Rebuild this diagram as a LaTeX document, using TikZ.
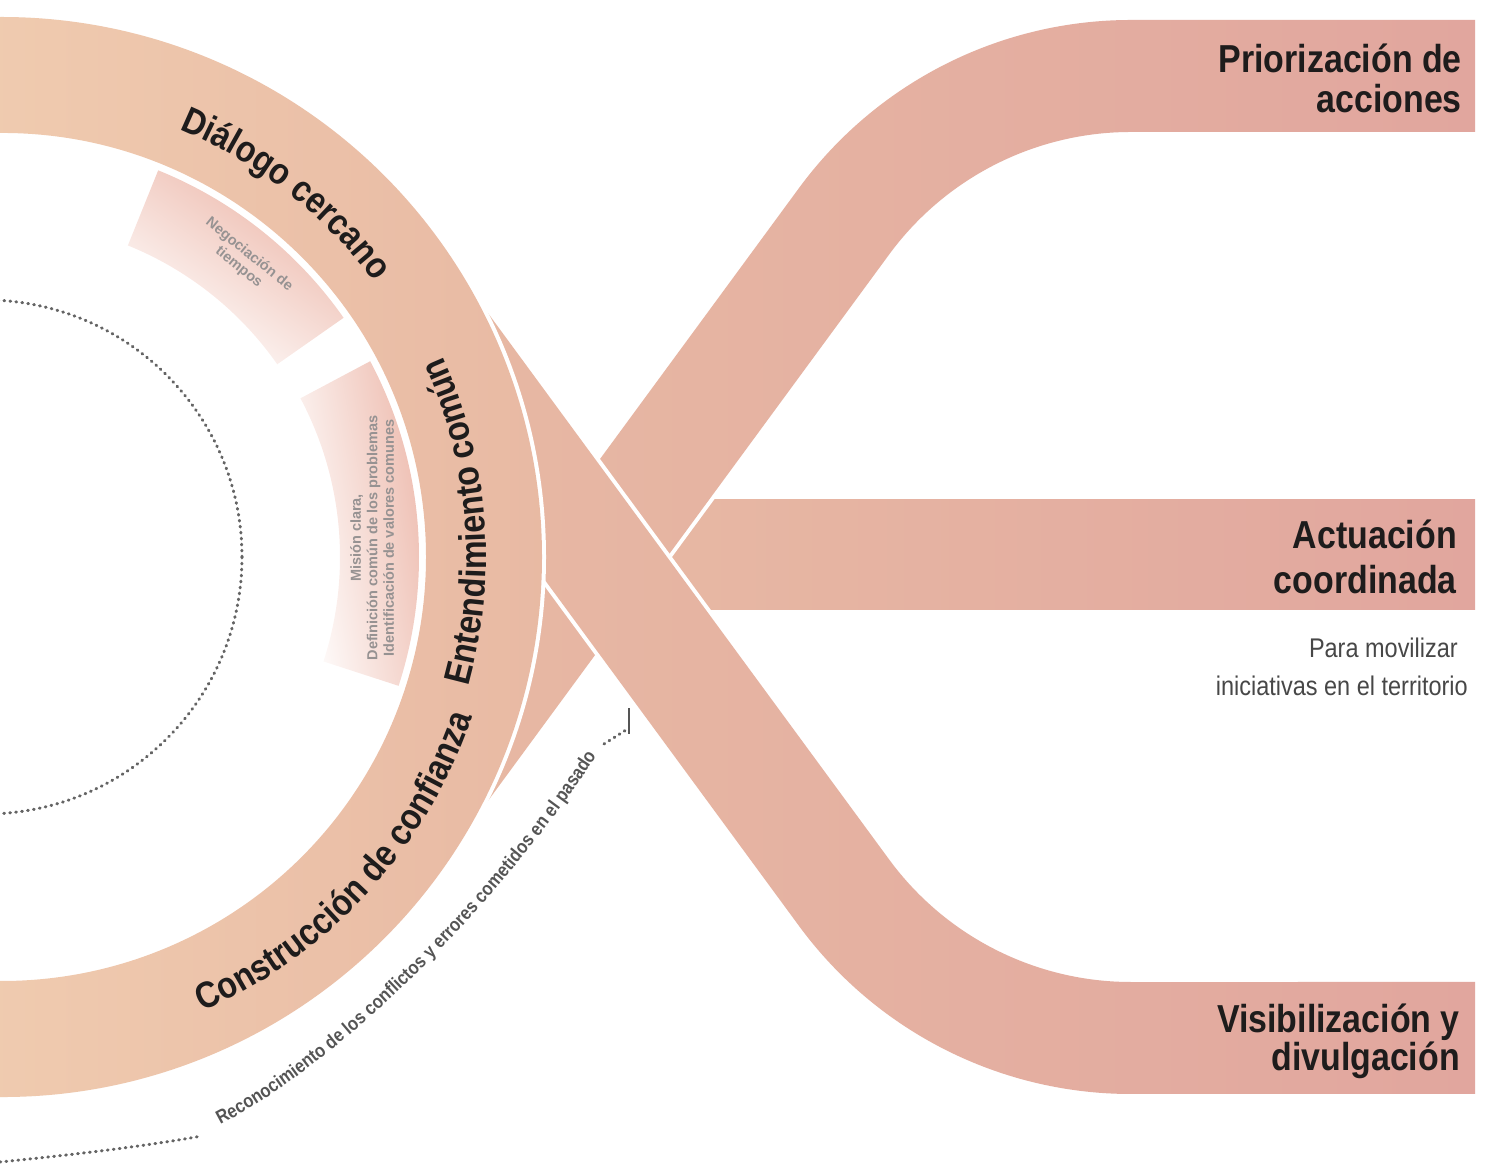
\documentclass[tikz,border=0pt]{standalone}
\usepackage{fontspec}
\setmainfont{Liberation Sans}
\newfontfamily\cnd{Liberation Sans}[FakeStretch=0.87]
\usetikzlibrary{calc,decorations.text}
\definecolor{ringL}{RGB}{240,204,176}
\definecolor{ringR}{RGB}{232,185,163}
\definecolor{bandL}{RGB}{232,186,164}
\definecolor{bandR}{RGB}{225,166,158}
\definecolor{boxpink}{RGB}{236,182,168}
\definecolor{ink}{RGB}{30,28,28}
\definecolor{faint}{RGB}{150,146,146}
\definecolor{dotgray}{RGB}{100,100,100}
\definecolor{smallgray}{RGB}{85,85,85}
\newcommand\ringfont{\cnd\bfseries\fontsize{37}{40}\selectfont}
\newcommand\tinyfont{\cnd\bfseries\fontsize{19}{22}\selectfont}
\tikzset{
  gap/.style={draw=white, line width=8pt, line join=round},
  bandshade/.style={left color=bandL, right color=bandR},
  labelnode/.style={font=\cnd\bfseries\fontsize{39}{42}\selectfont, text=ink, inner sep=0pt, anchor=base east},
  subnode/.style={font=\cnd\fontsize{27}{30}\selectfont, text=black!72, inner sep=0pt, anchor=base east},
  faintnode/.style={font=\bfseries\fontsize{14.5}{16.5}\selectfont, text=faint, align=center, inner sep=0pt},
  dotline/.style={draw=dotgray, line width=3pt, line cap=round, dash pattern=on 0.8pt off 5.2pt},
}
\begin{document}
\begin{tikzpicture}[x=1pt,y=1pt]
\useasboundingbox (0,0) rectangle (1488,1164);
\coordinate (C) at (2,607);
% middle band (behind)
\shade[bandshade] (560,554) rectangle (1475,664);
% ascending band
\draw[gap] (457.7,321.9) -- (889.2,909.6) arc[start angle=143.7,end angle=90,radius=300] -- (1475,1032) -- (1475,1144) -- (1131,1144) arc[start angle=90,end angle=143.7,radius=412] -- (367.4,388.2) -- cycle;
\shade[bandshade] (457.7,321.9) -- (889.2,909.6) arc[start angle=143.7,end angle=90,radius=300] -- (1475,1032) -- (1475,1144) -- (1131,1144) arc[start angle=90,end angle=143.7,radius=412] -- (367.4,388.2) -- cycle;
% descending band (front)
\draw[gap] (457.7,892.1) -- (889.2,304.4) arc[start angle=216.3,end angle=270,radius=300] -- (1475,182) -- (1475,70) -- (1131,70) arc[start angle=270,end angle=216.3,radius=412] -- (367.4,825.8) -- cycle;
\shade[bandshade] (457.7,892.1) -- (889.2,304.4) arc[start angle=216.3,end angle=270,radius=300] -- (1475,182) -- (1475,70) -- (1131,70) arc[start angle=270,end angle=216.3,radius=412] -- (367.4,825.8) -- cycle;
% ring
\draw[gap] (C) circle[radius=540];
\shade[left color=ringL, right color=ringR] ($(C)+(-95:540)$) arc[start angle=-95,end angle=95,radius=540] -- ($(C)+(95:424)$) arc[start angle=95,end angle=-95,radius=424] -- cycle;
% faded boxes
\shade[top color=boxpink, bottom color=white, shading angle=-35] ($(C)+(35:417)$) arc[start angle=35,end angle=68,radius=417] -- ($(C)+(68:336)$) arc[start angle=68,end angle=35,radius=336] -- cycle;
\shade[top color=boxpink, bottom color=white, shading angle=-80] ($(C)+(-18:417)$) arc[start angle=-18,end angle=28,radius=417] -- ($(C)+(28:338)$) arc[start angle=28,end angle=-18,radius=338] -- cycle;
\node[faintnode, rotate=-39] (neg) at (244,903) {Negociación de\\tiempos};
\node[faintnode, rotate=90] (mis) at (372,626) {Misión clara,\\Definición común de los problemas\\Identificación de valores comunes};
% ring labels
\path[decorate, decoration={text along path, text align=center, text color=ink, text={|\ringfont|Diálogo cercano}}] ($(C)+(82:463)$) arc[start angle=82,end angle=22,radius=463];
\path[decorate, decoration={text along path, text align=center, text color=ink, text={|\ringfont|Entendimiento común}}] ($(C)+(-25:484)$) arc[start angle=-25,end angle=34,radius=484];
\path[decorate, decoration={text along path, text align=center, text color=ink, text={|\ringfont|Construcción de confianza}}] ($(C)+(-75:497)$) arc[start angle=-75,end angle=-10,radius=497];
% dotted lines
\draw[dotline] (-15,607) circle[radius=257];
\draw[dotline] (0,2) .. controls (70,9) and (140,17) .. (202,28);
\path[decorate, decoration={text along path, text align=center, text color=smallgray, text={|\tinyfont|Reconocimiento de los conflictos y errores cometidos en el pasado}}] (214,36) .. controls (350,104) and (515,280) .. (600,414);
\draw[dotline] (604,420) -- (626,434);
\draw[smallgray, line width=1.8pt] (629,430) -- (629,456);
% right labels
\node[labelnode] (prio1) at (1462,1091) {Priorización de};
\node[labelnode] (prio2) at (1462,1051) {acciones};
\node[labelnode] (act1) at (1457,615) {Actuación};
\node[labelnode] (act2) at (1457,570) {coordinada};
\node[subnode] (sub1) at (1458,506) {Para movilizar};
\node[subnode] (sub2) at (1468,468) {iniciativas en el territorio};
\node[labelnode] (vis1) at (1460,131) {Visibilización y};
\node[labelnode] (vis2) at (1460,93) {divulgación};
\end{tikzpicture}
\end{document}
